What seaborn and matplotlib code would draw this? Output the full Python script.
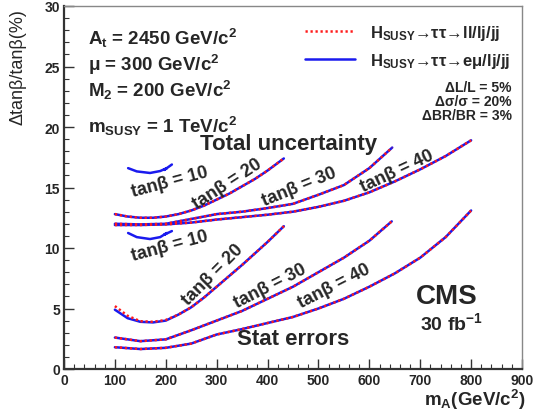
import numpy as np
import pandas as pd
import matplotlib
matplotlib.use("Agg")
import matplotlib.pyplot as plt
import seaborn as sns
from matplotlib.lines import Line2D

sns.set_theme(style="white")
plt.rcParams["font.family"] = ["Liberation Sans", "DejaVu Sans"]
plt.rcParams["mathtext.default"] = "regular"

# ---------------- data ----------------
# Total uncertainty
mA_tot10 = [126, 143, 169, 189, 202, 197, 212]
tot10_em = [16.6, 16.33, 16.2, 16.36, 16.6, 16.45, 16.9]

mA_tot20 = [100, 125, 150, 175, 200, 225, 250, 275, 300, 325, 350, 375, 400, 432]
tot20_ll = [12.8, 12.6, 12.5, 12.5, 12.6, 12.8, 13.1, 13.5, 14.0, 14.5, 15.1, 15.7, 16.4, 17.4]
tot20_em = [12.8, 12.6, 12.5, 12.5, 12.6, 12.8, 13.1, 13.5, 14.0, 14.5, 15.1, 15.7, 16.4, 17.4]

mA_tot30 = [100, 150, 200, 250, 300, 350, 400, 450, 500, 550, 600, 645]
tot30_ll = [12.0, 11.95, 12.0, 12.4, 12.8, 13.0, 13.3, 13.65, 14.4, 15.2, 16.6, 18.3]
tot30_em = [12.0, 11.95, 12.0, 12.4, 12.8, 13.0, 13.3, 13.65, 14.4, 15.2, 16.6, 18.3]

mA_tot40 = [100, 150, 200, 250, 300, 350, 400, 450, 500, 550, 600, 650, 700, 750, 800]
tot40_ll = [11.9, 11.9, 11.95, 12.1, 12.35, 12.55, 12.75, 13.0, 13.4, 13.9, 14.6, 15.5, 16.5, 17.6, 18.9]
tot40_em = [11.9, 11.9, 11.95, 12.1, 12.35, 12.55, 12.75, 13.0, 13.4, 13.9, 14.6, 15.5, 16.5, 17.6, 18.9]

# Statistical errors
mA_st10 = [126, 143, 169, 189, 202, 197, 212]
st10_em = [11.24, 10.9, 10.74, 10.9, 11.24, 11.1, 11.4]

mA_st20 = [100, 125, 150, 175, 200, 225, 250, 275, 300, 350, 400, 432]
st20_ll = [5.2, 4.4, 3.95, 3.9, 4.05, 4.5, 5.1, 5.9, 6.8, 8.6, 10.5, 11.8]
st20_em = [4.9, 4.2, 3.9, 3.85, 4.0, 4.5, 5.1, 5.9, 6.8, 8.6, 10.5, 11.8]

mA_st30 = [100, 150, 200, 250, 300, 350, 400, 450, 500, 550, 600, 644]
st30_ll = [2.6, 2.3, 2.45, 3.2, 4.0, 4.8, 5.8, 6.8, 8.0, 9.2, 10.6, 12.2]
st30_em = [2.6, 2.3, 2.45, 3.2, 4.0, 4.8, 5.8, 6.8, 8.0, 9.2, 10.6, 12.2]

mA_st40 = [100, 150, 200, 250, 300, 350, 400, 450, 500, 550, 600, 650, 700, 750, 800]
st40_ll = [1.8, 1.65, 1.75, 2.1, 2.85, 3.3, 3.8, 4.3, 5.0, 5.8, 6.8, 7.9, 9.2, 10.9, 13.1]
st40_em = [1.8, 1.65, 1.75, 2.1, 2.85, 3.3, 3.8, 4.3, 5.0, 5.8, 6.8, 7.9, 9.2, 10.9, 13.1]

legend_labels = ["H$_{SUSY}$\u2192\u03c4\u03c4\u2192ll/lj/jj",
                 "H$_{SUSY}$\u2192\u03c4\u03c4\u2192e\u03bc/lj/jj"]
param_texts = ["A$_{t}$ = 2450 GeV/c$^{2}$", "\u03bc = 300 GeV/c$^{2}$",
               "M$_{2}$ = 200 GeV/c$^{2}$", "m$_{SUSY}$ = 1 TeV/c$^{2}$"]
syst_texts = ["\u0394L/L = 5%", "\u0394\u03c3/\u03c3 = 20%", "\u0394BR/BR = 3%"]
xticks = list(range(0, 1000, 100))
yticks = [0, 5, 10, 15, 20, 25, 30]

# ---------------- figure ----------------
fig = plt.figure(figsize=(5.33, 4.14), dpi=100)
ax = fig.add_axes([64 / 533, 1 - 370 / 414, 458 / 533, 363 / 414])

BLUE = "#1a1aee"
RED = "#ff1a1a"
DOTS = (0, (0.9, 1.1))

em_curves = [(mA_tot10, tot10_em), (mA_tot20, tot20_em), (mA_tot30, tot30_em),
             (mA_tot40, tot40_em), (mA_st10, st10_em), (mA_st20, st20_em),
             (mA_st30, st30_em), (mA_st40, st40_em)]
ll_curves = [(mA_tot20, tot20_ll), (mA_tot30, tot30_ll), (mA_tot40, tot40_ll),
             (mA_st20, st20_ll), (mA_st30, st30_ll), (mA_st40, st40_ll)]

for xs, ys in em_curves:
    sns.lineplot(x=xs, y=ys, ax=ax, color=BLUE, lw=1.8, sort=False,
                 estimator=None, legend=False)
for xs, ys in ll_curves:
    sns.lineplot(x=xs, y=ys, ax=ax, color=RED, lw=1.8, sort=False,
                 estimator=None, legend=False, linestyle=DOTS)

ax.set_xlim(0, 900)
ax.set_ylim(0, 30)
ax.set_xticks(xticks)
ax.set_yticks(yticks)
ax.set_xticks(np.arange(0, 901, 20), minor=True)
ax.set_yticks(np.arange(0, 31, 1), minor=True)
ax.tick_params(which="major", direction="in", length=7, width=1.0, color="#333333",
               labelsize=10, pad=3, bottom=True, left=True, top=False, right=False)
ax.tick_params(which="minor", direction="in", length=3.5, width=0.8, color="#333333",
               bottom=True, left=True, top=False, right=False)
for lab in ax.get_xticklabels() + ax.get_yticklabels():
    lab.set_fontweight("bold")
ax.set_xlabel("")
ax.set_ylabel("")
for side in ["left", "bottom"]:
    ax.spines[side].set_color("#333333")
    ax.spines[side].set_linewidth(1.6)
for side in ["top", "right"]:
    ax.spines[side].set_color("#888888")
    ax.spines[side].set_linewidth(1.0)

fig.text(0.033, 0.978, "\u0394tan\u03b2/tan\u03b2(%)", rotation=90, ha="center",
         va="top", fontsize=13)
fig.text(0.985, 0.005, "m$_{A}$(GeV/c$^{2}$)", ha="right", va="bottom",
         fontsize=13.5, fontweight="bold")

for t, yv in zip(param_texts, [27.4, 25.2, 23.1, 20.1]):
    ax.text(47, yv, t, fontsize=13.5, fontweight="bold", ha="left", va="center")
for t, yv in zip(syst_texts, [23.3, 22.15, 21.0]):
    ax.text(880, yv, t, fontsize=10, fontweight="bold", ha="right", va="center")

ax.text(267, 18.6, "Total uncertainty", fontsize=16, fontweight="bold",
        ha="left", va="center")
ax.text(340, 2.5, "Stat errors", fontsize=16, fontweight="bold",
        ha="left", va="center")
ax.text(752, 6.0, "CMS", fontsize=20, fontweight="bold", ha="center", va="center")
ax.text(762, 3.9, "30 fb$^{-1}$", fontsize=14, fontweight="bold",
        ha="center", va="center")

labels_tb = [("tan\u03b2 = 10", 208, 15.5, 15), ("tan\u03b2 = 20", 320, 15.3, 33),
             ("tan\u03b2 = 30", 463, 15.1, 22), ("tan\u03b2 = 40", 654, 16.4, 25),
             ("tan\u03b2 = 10", 208, 10.2, 15), ("tan\u03b2 = 20", 293, 7.8, 45),
             ("tan\u03b2 = 30", 405, 6.9, 27), ("tan\u03b2 = 40", 530, 6.9, 27)]
for t, xv, yv, rot in labels_tb:
    ax.text(xv, yv, t, fontsize=13, fontweight="bold", rotation=rot,
            ha="center", va="center", rotation_mode="anchor")

handles = [Line2D([], [], color=RED, lw=1.8, linestyle=DOTS),
           Line2D([], [], color=BLUE, lw=1.8)]
ax.legend(handles, legend_labels, loc="upper right", bbox_to_anchor=(1.008, 0.995),
          frameon=False, handlelength=3.0, handletextpad=0.9, labelspacing=0.55,
          prop={"weight": "bold", "size": 12})

fig.savefig("out.png", dpi=100)
